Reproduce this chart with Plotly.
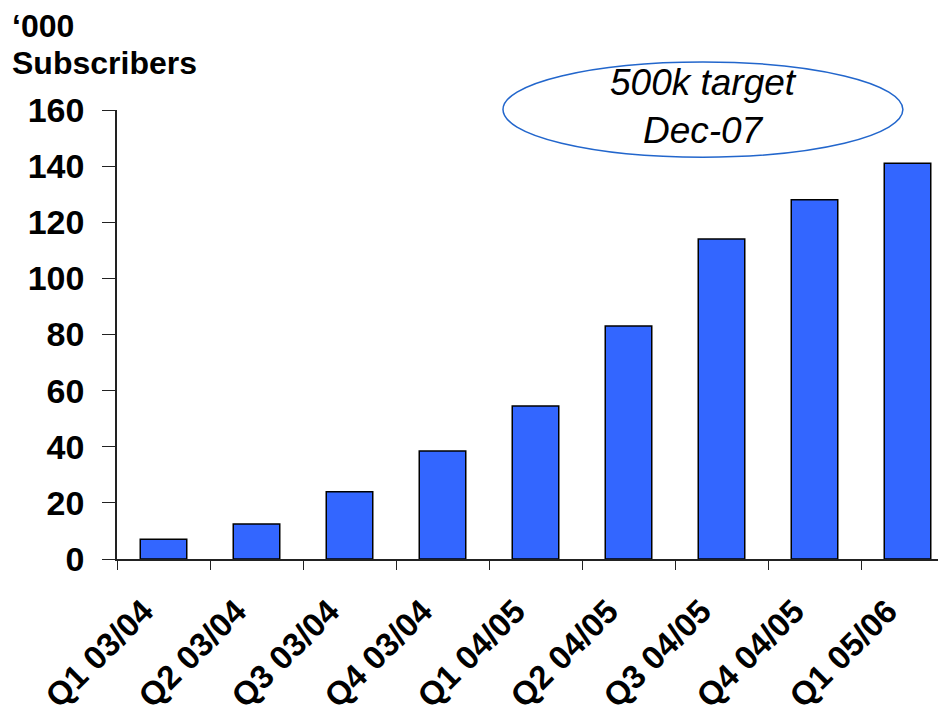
import plotly.graph_objects as go

categories = ["Q1 03/04", "Q2 03/04", "Q3 03/04", "Q4 03/04", "Q1 04/05",
              "Q2 04/05", "Q3 04/05", "Q4 04/05", "Q1 05/06"]
subscribers = [7, 12.5, 24, 38.5, 54.5, 83, 114, 128, 141]
y_ticks = [0, 20, 40, 60, 80, 100, 120, 140, 160]
title_line1 = "‘000"
title_line2 = "Subscribers"
callout = "500k target<br>Dec-07"

FONT = "Liberation Sans, Arial, sans-serif"

fig = go.Figure(go.Bar(
    x=categories, y=subscribers,
    width=0.5,
    marker=dict(color="#3366FF", line=dict(color="#000000", width=1.5)),
))

fig.update_layout(
    width=946, height=713,
    margin=dict(l=109, r=8, t=102, b=162),
    plot_bgcolor="white", paper_bgcolor="white",
    showlegend=False,
    font=dict(family=FONT, color="#000000"),
    xaxis=dict(
        range=[-0.5, 8.414], showgrid=False, zeroline=False,
        showline=True, linecolor="#222222", linewidth=1.5,
        ticks="outside", ticklen=9, tickwidth=1.2, tickcolor="#222222",
        tickson="boundaries", tickangle=-45,
        ticklabelstandoff=18, ticklabelshift=-20,
        tickfont=dict(family=FONT, size=33, weight="bold", color="#000000"),
    ),
    yaxis=dict(
        range=[0, 160], tickvals=y_ticks, showgrid=False, zeroline=False,
        showline=True, linecolor="#222222", linewidth=1.5,
        ticks="outside", ticklen=13, tickwidth=1.2, tickcolor="#222222",
        ticklabelstandoff=11,
        tickfont=dict(family=FONT, size=34, weight="bold", color="#000000"),
    ),
    shapes=[dict(
        type="circle", xref="paper", yref="paper",
        x0=0.4656, x1=0.948, y0=0.895, y1=1.107,
        line=dict(color="#2266CC", width=1.5), fillcolor="rgba(0,0,0,0)",
    )],
    annotations=[
        dict(text=title_line1, xref="paper", yref="paper", x=-0.129, y=1.232,
             xanchor="left", yanchor="top", align="left", showarrow=False,
             font=dict(family=FONT, size=32, weight="bold", color="#000000")),
        dict(text=title_line2, xref="paper", yref="paper", x=-0.129, y=1.1496,
             xanchor="left", yanchor="top", align="left", showarrow=False,
             font=dict(family=FONT, size=32, weight="bold", color="#000000")),
        dict(text=callout, xref="paper", yref="paper", x=0.707, y=1.008,
             xanchor="center", yanchor="middle", align="center", showarrow=False,
             font=dict(family=FONT, size=37, style="italic", color="#000000")),
    ],
)

fig.write_html("out.html")
